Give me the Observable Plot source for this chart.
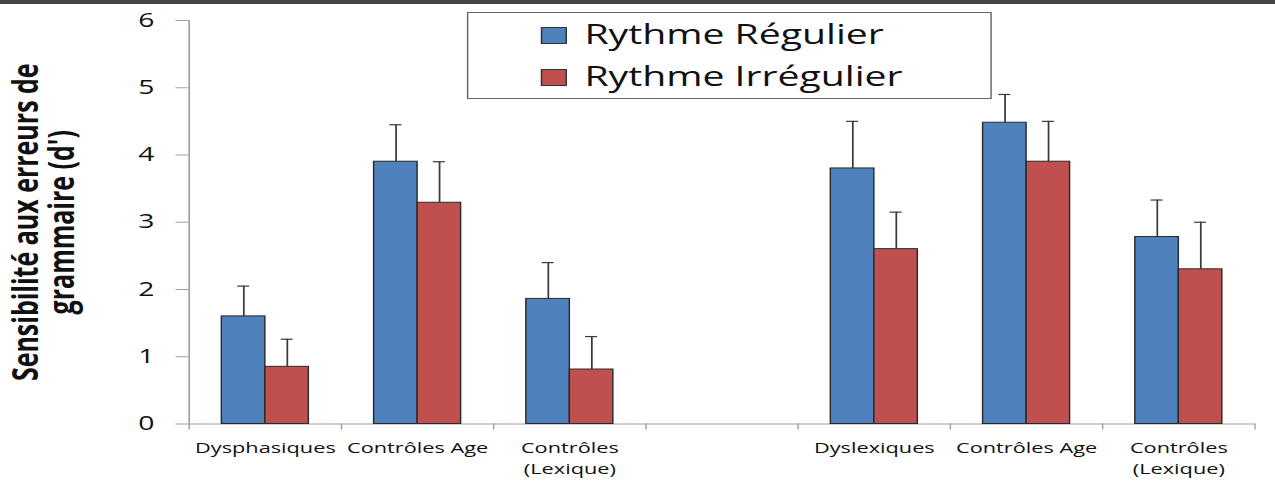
<!DOCTYPE html>
<html><head><meta charset="utf-8">
<script src="https://cdn.jsdelivr.net/npm/d3@7"></script>
<script src="https://cdn.jsdelivr.net/npm/@observablehq/plot@0.6"></script>
<style>
html,body{margin:0;padding:0;background:#fff;overflow:hidden;width:1275px;height:491px;}
#topbar{position:absolute;left:0;top:0;width:1275px;height:4px;background:#454545;}
#wrap{position:absolute;left:0;top:0;transform-origin:0 0;}
#legend{position:absolute;border:1px solid #666;background:#fff;box-sizing:border-box;font-family:"Open Sans",sans-serif;color:#111;}
.sw{position:absolute;border:1px solid #333;box-sizing:border-box;}
.lt{position:absolute;font-size:27px;line-height:27px;white-space:nowrap;}
</style></head><body>
<div id="wrap"></div><div id="topbar"></div>
<script>
// ---- data ----
const groups = ["Dysphasiques", "Contrôles Age", "Contrôles\n(Lexique)", "", "Dyslexiques", "Contrôles Age", "Contrôles\n(Lexique)"];
const series = ["Rythme Régulier", "Rythme Irrégulier"];
const regular = [1.60, 3.90, 1.86, null, 3.80, 4.48, 2.78];
const regularErr = [0.45, 0.55, 0.54, null, 0.70, 0.42, 0.55];
const irregular = [0.85, 3.29, 0.81, null, 2.60, 3.90, 2.30];
const irregularErr = [0.41, 0.61, 0.49, null, 0.55, 0.60, 0.70];
const colors = ["#4F81BD", "#C0504D"];
const yTicks = [0, 1, 2, 3, 4, 5, 6];
const yLabel = "Sensibilité aux erreurs de\ngrammaire (d')";

// ---- table ----
const values = [regular, irregular];
const errors = [regularErr, irregularErr];
const rows = [];
groups.forEach((g, i) => {
  series.forEach((s, j) => {
    if (values[j][i] != null) rows.push({slot: i, series: s, value: values[j][i], upper: values[j][i] + errors[j][i]});
  });
});
const slots = d3.range(groups.length);

// ---- layout (the original picture is stretched horizontally) ----
const S = 1.45;
const W = 1275 / S, H = 491;
const mL = 189 / S, mR = W - 1255 / S, mT = 20, mB = 491 - 423.5;
const bw = (W - mL - mR) / groups.length;
const barW = bw / 3.5;
const capInset = (barW - 12 / S) / 2;
const axisGray = "#a0a0a0";

const chart = Plot.plot({
  width: W, height: H,
  marginLeft: mL, marginRight: mR, marginTop: mT, marginBottom: mB,
  style: {fontFamily: "'Open Sans', sans-serif", background: "transparent", overflow: "visible", color: "#111"},
  fx: {domain: slots, padding: 0, axis: null},
  x: {domain: series, paddingInner: 0, paddingOuter: 0.75, axis: null},
  y: {domain: [0, 6], axis: null},
  color: {domain: series, range: colors},
  marks: [
    Plot.ruleY(slots, {fx: d => d, y: () => 0, stroke: axisGray, strokeWidth: 1.2}),
    Plot.axisFx({anchor: "bottom", ticks: [slots[0]], tickSize: -(H - mT - mB), tickFormat: () => "", dx: -bw / 2, stroke: axisGray, strokeWidth: 1.2, label: null}),
    Plot.axisY({facetAnchor: "left", ticks: yTicks, tickFormat: "d", tickSize: 9, tickPadding: 15, fontSize: 19.5, stroke: axisGray, fill: "#111", label: null}),
    Plot.axisY({facetAnchor: "left", ticks: yTicks, tickSize: 0, tickFormat: () => "", label: yLabel, labelAnchor: "center", labelArrow: "none", labelOffset: mL - 8, dy: -6, fontSize: 25, fontWeight: "bold", lineHeight: 1.1, fill: "#111"}),
    Plot.axisFx({anchor: "bottom", tickSize: 0, tickPadding: 14, tickFormat: i => groups[i], fontSize: 15, lineHeight: 1.4, fill: "#111", label: null}),
    Plot.axisFx({anchor: "bottom", tickSize: 6, tickFormat: () => "", dx: -bw / 2, stroke: axisGray, label: null}),
    Plot.axisFx({anchor: "bottom", ticks: [slots[slots.length - 1]], tickSize: 6, tickFormat: () => "", dx: bw / 2, stroke: axisGray, label: null}),
    Plot.barY(rows, {fx: "slot", x: "series", y: "value", fill: "series", stroke: "#2a2a2a", strokeWidth: 1}),
    Plot.ruleX(rows, {fx: "slot", x: "series", y1: "value", y2: "upper", stroke: "#3a3a3a", strokeWidth: 1.2}),
    Plot.tickY(rows, {fx: "slot", x: "series", y: "upper", stroke: "#3a3a3a", strokeWidth: 1.2, insetLeft: capInset, insetRight: capInset})
  ]
});

const wrap = document.getElementById("wrap");
wrap.style.width = W + "px";
wrap.style.height = H + "px";
wrap.style.transform = `scaleX(${S})`;
wrap.appendChild(chart);

// legend (inside the stretched wrapper)
const lg = document.createElement("div");
lg.id = "legend";
const L0 = 467 / S;
lg.style.left = L0 + "px"; lg.style.top = "12px";
lg.style.width = (992 - 467) / S + "px"; lg.style.height = "87px";
series.forEach((s, j) => {
  const sw = document.createElement("div");
  sw.className = "sw";
  sw.style.left = (540 / S - L0) + "px";
  sw.style.top = (14 + j * 42) + "px";
  sw.style.width = (26 / S) + "px";
  sw.style.height = "17px";
  sw.style.background = colors[j];
  lg.appendChild(sw);
  const t = document.createElement("div");
  t.className = "lt";
  t.style.left = (583 / S - L0) + "px";
  t.style.top = (7 + j * 42) + "px";
  t.textContent = s;
  lg.appendChild(t);
});
wrap.appendChild(lg);
</script>
</body></html>
